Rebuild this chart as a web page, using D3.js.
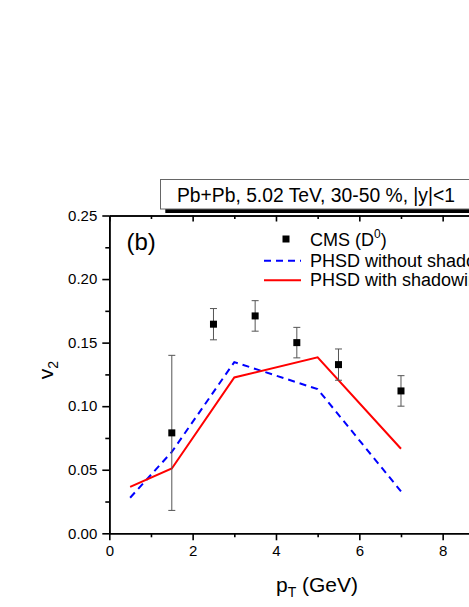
<!DOCTYPE html>
<html>
<head>
<meta charset="utf-8">
<script src="https://cdn.jsdelivr.net/npm/d3@7"></script>
<style>
  body { margin: 0; background: #fff; }
  svg { display: block; font-family: Arial, "Liberation Sans", sans-serif; }
  .axis path, .axis line { stroke: #000; stroke-width: 1.6; }
  .axis text { font-size: 15px; fill: #000; }
</style>
</head>
<body>
<svg width="469" height="607"></svg>
<script>
// CMS D0 data
const cmsPt = [1.5, 2.5, 3.5, 4.5, 5.5, 7.0]
const cmsV2 = [0.079, 0.1645, 0.171, 0.150, 0.1327, 0.112]
const cmsErr = [0.061, 0.0123, 0.012, 0.012, 0.0123, 0.012]

// PHSD curves
const phsdPt = [0.5, 1.5, 3.0, 5.0, 7.0]
const phsdNoShadow = [0.028, 0.064, 0.1347, 0.1134, 0.033]
const phsdShadow = [0.0365, 0.051, 0.1226, 0.1385, 0.0665]

const xTicks = [0, 2, 4, 6, 8]
const xMinor = [1, 3, 5, 7]
const yTicks = [0, 0.05, 0.10, 0.15, 0.20, 0.25]
const yMinor = [0.025, 0.075, 0.125, 0.175, 0.225]

const svg = d3.select('svg')

// frame runs out to pT = 10, past the right edge of the window
const x = d3.scaleLinear().domain([0, 10]).range([109.3, 526])
const y = d3.scaleLinear().domain([0, 0.25]).range([533.3, 215.5])

// bottom axis
svg.append('g').attr('class', 'axis')
    .attr('transform', `translate(0, ${y(0)})`)
    .call(d3.axisBottom(x).tickValues(xTicks).tickSize(7).tickPadding(5).tickSizeOuter(0).tickFormat(d3.format('d')))
svg.append('g').attr('class', 'axis')
    .attr('transform', `translate(0, ${y(0)})`)
    .call(d3.axisBottom(x).tickValues(xMinor).tickSize(4).tickSizeOuter(0).tickFormat(''))

// top axis (ticks inward, no labels)
svg.append('g').attr('class', 'axis')
    .attr('transform', `translate(0, ${y(0.25)})`)
    .call(d3.axisBottom(x).tickValues(xTicks).tickSize(6).tickSizeOuter(0).tickFormat(''))
svg.append('g').attr('class', 'axis')
    .attr('transform', `translate(0, ${y(0.25)})`)
    .call(d3.axisBottom(x).tickValues(xMinor).tickSize(3.5).tickSizeOuter(0).tickFormat(''))

// left axis
svg.append('g').attr('class', 'axis')
    .attr('transform', `translate(${x(0)}, 0)`)
    .call(d3.axisLeft(y).tickValues(yTicks).tickSize(7).tickPadding(5).tickSizeOuter(0).tickFormat(d3.format('.2f')))
svg.append('g').attr('class', 'axis')
    .attr('transform', `translate(${x(0)}, 0)`)
    .call(d3.axisLeft(y).tickValues(yMinor).tickSize(4).tickSizeOuter(0).tickFormat(''))

// PHSD curves
const line = d3.line().x((d) => x(d[0])).y((d) => y(d[1]))

svg.append('path')
    .datum(phsdPt.map((p, i) => [p, phsdNoShadow[i]]))
    .attr('d', line)
    .attr('fill', 'none')
    .attr('stroke', '#0000ff')
    .attr('stroke-width', 2)
    .attr('stroke-dasharray', '7,5')

svg.append('path')
    .datum(phsdPt.map((p, i) => [p, phsdShadow[i]]))
    .attr('d', line)
    .attr('fill', 'none')
    .attr('stroke', '#ff0000')
    .attr('stroke-width', 2)

// CMS points with error bars
const cms = cmsPt.map((p, i) => ({ pt: p, v: cmsV2[i], e: cmsErr[i] }))
const pts = svg.append('g').selectAll('g').data(cms).enter().append('g')

pts.append('line')
    .attr('x1', (d) => x(d.pt)).attr('x2', (d) => x(d.pt))
    .attr('y1', (d) => y(d.v - d.e)).attr('y2', (d) => y(d.v + d.e))
    .attr('stroke', '#555').attr('stroke-width', 1)
pts.append('line')
    .attr('x1', (d) => x(d.pt) - 3.5).attr('x2', (d) => x(d.pt) + 3.5)
    .attr('y1', (d) => y(d.v + d.e)).attr('y2', (d) => y(d.v + d.e))
    .attr('stroke', '#555').attr('stroke-width', 1)
pts.append('line')
    .attr('x1', (d) => x(d.pt) - 3.5).attr('x2', (d) => x(d.pt) + 3.5)
    .attr('y1', (d) => y(d.v - d.e)).attr('y2', (d) => y(d.v - d.e))
    .attr('stroke', '#555').attr('stroke-width', 1)
pts.append('rect')
    .attr('x', (d) => x(d.pt) - 3.5).attr('y', (d) => y(d.v) - 3.5)
    .attr('width', 7).attr('height', 7)
    .attr('fill', '#000')

// panel label
svg.append('text')
    .attr('x', 126.5).attr('y', 250)
    .attr('font-size', 24)
    .text('(b)')

// legend
svg.append('rect')
    .attr('x', 282.5).attr('y', 235.5).attr('width', 7).attr('height', 7).attr('fill', '#000')
const t1 = svg.append('text').attr('x', 310).attr('y', 246).attr('font-size', 18)
t1.append('tspan').text('CMS (D')
t1.append('tspan').attr('font-size', 12).attr('dy', -8).text('0')
t1.append('tspan').attr('dy', 8).text(')')

svg.append('line')
    .attr('x1', 264).attr('x2', 301).attr('y1', 260.7).attr('y2', 260.7)
    .attr('stroke', '#0000ff').attr('stroke-width', 2).attr('stroke-dasharray', '7,5')
svg.append('text').attr('x', 310).attr('y', 266.5).attr('font-size', 18)
    .text('PHSD without shadowing')

svg.append('line')
    .attr('x1', 264).attr('x2', 301).attr('y1', 280.3).attr('y2', 280.3)
    .attr('stroke', '#ff0000').attr('stroke-width', 2)
svg.append('text').attr('x', 310).attr('y', 286).attr('font-size', 18)
    .text('PHSD with shadowing')

// title box with shadow
svg.append('rect')
    .attr('x', 165.3).attr('y', 184).attr('width', 320).attr('height', 29)
    .attr('fill', '#000')
svg.append('rect')
    .attr('x', 160.5).attr('y', 179.5).attr('width', 320).attr('height', 29.5)
    .attr('fill', '#fff').attr('stroke', '#666').attr('stroke-width', 1)
svg.append('text')
    .attr('x', 316).attr('y', 201.5)
    .attr('text-anchor', 'middle')
    .attr('font-size', 19.3)
    .text('Pb+Pb, 5.02 TeV, 30-50 %, |y|<1')

// axis titles
const yl = svg.append('text')
    .attr('transform', 'translate(53, 370) rotate(-90)')
    .attr('text-anchor', 'middle')
    .attr('font-size', 21)
yl.append('tspan').text('v')
yl.append('tspan').attr('font-size', 14).attr('dy', 5).text('2')

const xl = svg.append('text')
    .attr('x', 317).attr('y', 592)
    .attr('text-anchor', 'middle')
    .attr('font-size', 21)
xl.append('tspan').text('p')
xl.append('tspan').attr('font-size', 14).attr('dy', 5).text('T')
xl.append('tspan').attr('dy', -5).text(' (GeV)')
</script>
</body>
</html>
